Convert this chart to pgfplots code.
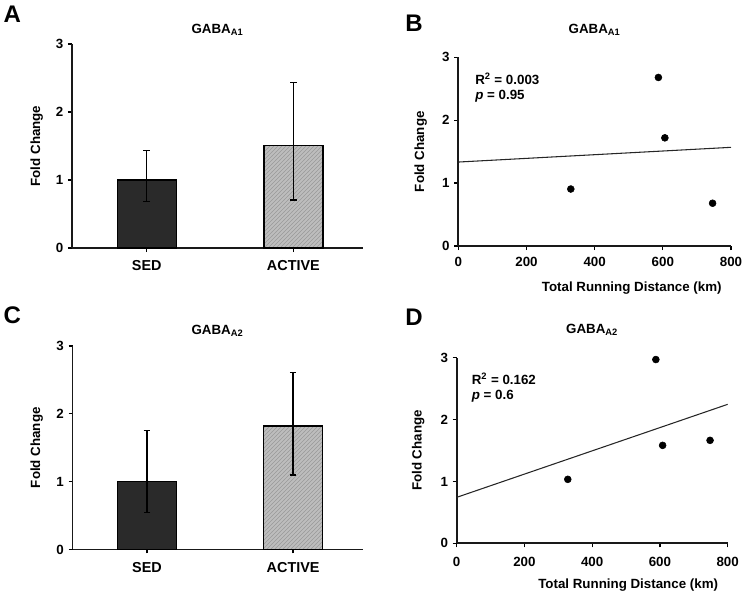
\documentclass[border=0pt]{standalone}
\usepackage{pgfplots}
\pgfplotsset{compat=1.18}
\usepackage{fontspec}
\setmainfont{Liberation Sans}
\usetikzlibrary{patterns}

\definecolor{sed}{HTML}{2A2A2A}
\definecolor{act}{HTML}{BDBDBD}

\pgfplotsset{
 common/.style={
   scale only axis, axis lines=left,
   axis line style={-, line width=1.3pt, black!90},
   ymin=0, ymax=3, ytick={0,1,2,3},
   tick align=outside, major tick length=3pt,
   tick style={line width=1pt, black},
   /pgf/number format/assume math mode=true,
   ticklabel style={font=\bfseries\fontsize{10}{12}\selectfont},
   label style={font=\bfseries\fontsize{10}{12}\selectfont},
   title style={font=\bfseries\fontsize{10}{12}\selectfont, at={(0.5,1)}, anchor=base},
   ylabel={Fold Change},
   clip=false,
 },
 barax/.style={common, xmin=-0.51, xmax=1.475, xtick={0,1},
   xticklabels={SED,ACTIVE}, xticklabel style={yshift=-3pt, font=\bfseries\fontsize{10.8}{12}\selectfont}},
 scatax/.style={common, xmin=0, xmax=800, xtick={0,200,400,600,800},
   xlabel={Total Running Distance (km)}},
 sedbar/.style={ybar, bar width=44.25pt, bar shift=0pt, fill=sed, draw=black, line width=1pt,
   error bars/.cd, y dir=both, y explicit,
   error bar style={line width=1pt, black},
   error mark options={rotate=90, mark size=2.5pt, line width=1pt, black}},
 actbar/.style={ybar, bar width=44.25pt, bar shift=0pt, fill=act, draw=black, line width=1pt,
   postaction={pattern=north east lines, pattern color=black!40},
   error bars/.cd, y dir=both, y explicit,
   error bar style={line width=1pt, black},
   error mark options={rotate=90, mark size=2.5pt, line width=1pt, black}},
 pts/.style={only marks, mark=*, mark size=2.6pt, black},
 reg/.style={no marks, line width=0.8pt, black!85},
}

\begin{document}
\begin{tikzpicture}
\useasboundingbox (0,0) rectangle (562.5pt,-450pt);

% ---------- A ----------
\begin{axis}[barax, at={(54pt,-186pt)}, anchor=south west, width=218.25pt, height=153pt,
  title={GABA\textsubscript{A1}}, title style={yshift=2pt},
  ylabel style={at={(axis description cs:0,0.5)}, anchor=center, yshift=26.5pt}]
\addplot[sedbar] coordinates {(0,1.0) += (0,0.43) -= (0,0.32)};
\addplot[actbar] coordinates {(1,1.505) += (0,0.93) -= (0,0.80)};
\end{axis}

% ---------- B ----------
\begin{axis}[scatax, at={(343.75pt,-184.5pt)}, anchor=south west, width=204.5pt, height=141.5pt,
  title={GABA\textsubscript{A1}}, title style={yshift=12pt},
  ylabel style={at={(axis description cs:0,0.5)}, anchor=center, yshift=28.2pt},
  xlabel style={at={(axis description cs:0.5,0)}, anchor=base, xshift=27.8pt, yshift=-34.3pt},
  xticklabel style={yshift=-1.7pt}]
\addplot[reg] coordinates {(0,1.335) (800,1.569)};
\addplot[pts] coordinates {(330,0.906) (587,2.68) (606,1.72) (746,0.68)};
\node[anchor=base west, font=\bfseries\fontsize{10}{12}\selectfont, inner sep=0] at (axis cs:49,2.576) {R\textsuperscript{2} = 0.003};
\node[anchor=base west, font=\bfseries\fontsize{10}{12}\selectfont, inner sep=0] at (axis cs:49,2.332) {\textit{p} = 0.95};
\end{axis}

% ---------- C ----------
\begin{axis}[barax, at={(54.4pt,-412.1pt)}, anchor=south west, width=217.5pt, height=152.6pt,
  title={GABA\textsubscript{A2}}, title style={yshift=2.8pt},
  ylabel style={at={(axis description cs:0,0.5)}, anchor=center, yshift=26.9pt}]
\addplot[sedbar] coordinates {(0,1.0) += (0,0.75) -= (0,0.45)};
\addplot[actbar] coordinates {(1,1.82) += (0,0.79) -= (0,0.72)};
\end{axis}

% ---------- D ----------
\begin{axis}[scatax, at={(342.5pt,-407.5pt)}, anchor=south west, width=203.25pt, height=139.25pt,
  title={GABA\textsubscript{A2}}, title style={yshift=12.3pt},
  ylabel style={at={(axis description cs:0,0.5)}, anchor=center, yshift=28.8pt},
  xlabel style={at={(axis description cs:0.5,0)}, anchor=base, xshift=27pt, yshift=-33.8pt},
  xticklabel style={yshift=-3.7pt}]
\addplot[reg] coordinates {(0,0.743) (800,2.246)};
\addplot[pts] coordinates {(328,1.034) (588,2.97) (608,1.583) (748,1.664)};
\node[anchor=base west, font=\bfseries\fontsize{10}{12}\selectfont, inner sep=0] at (axis cs:44,2.569) {R\textsuperscript{2} = 0.162};
\node[anchor=base west, font=\bfseries\fontsize{10}{12}\selectfont, inner sep=0] at (axis cs:44,2.326) {\textit{p} = 0.6};
\end{axis}

% panel letters
\node[anchor=base west, font=\bfseries\fontsize{18}{20}\selectfont, inner sep=0] at (2.5pt,-17pt) {A};
\node[anchor=base west, font=\bfseries\fontsize{18}{20}\selectfont, inner sep=0] at (303.75pt,-23.8pt) {B};
\node[anchor=base west, font=\bfseries\fontsize{18}{20}\selectfont, inner sep=0] at (2.5pt,-242.5pt) {C};
\node[anchor=base west, font=\bfseries\fontsize{18}{20}\selectfont, inner sep=0] at (303.75pt,-243.75pt) {D};
\end{tikzpicture}
\end{document}
